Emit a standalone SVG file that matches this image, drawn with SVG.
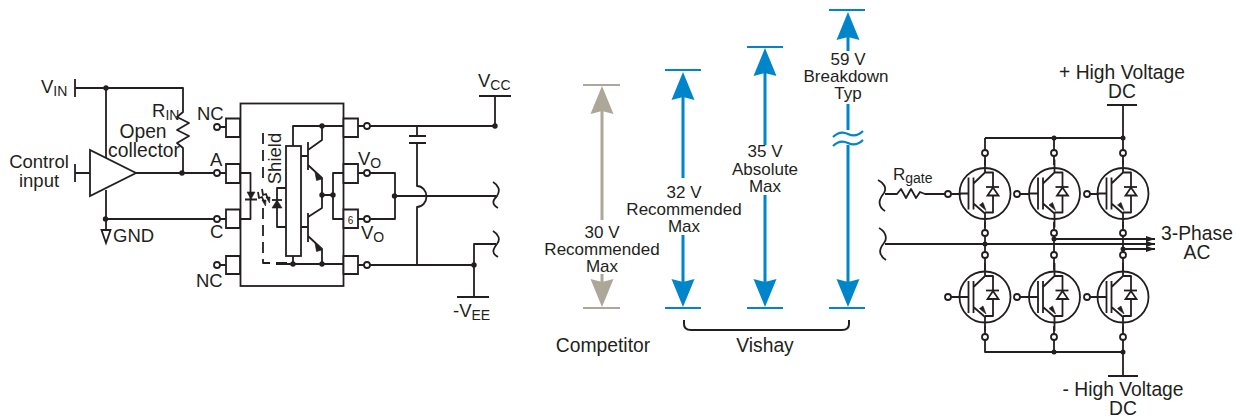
<svg xmlns="http://www.w3.org/2000/svg" width="1237" height="417" viewBox="0 0 1237 417">
<style>
text{font-family:"Liberation Sans",Arial,sans-serif;fill:#231f20;font-size:18.500px}
.m{text-anchor:middle}
.s{font-size:17px}
.l{font-size:19.300px}
.c{fill:none;stroke:#231f20;stroke-width:1.800;stroke-linejoin:round}
.f{fill:#fff;stroke:#231f20;stroke-width:1.800}
.d{fill:#231f20;stroke:none}
.k{fill:#231f20;stroke:#231f20;stroke-width:.6}
.b{stroke:#0085ca;stroke-width:3;fill:none}
.bt{stroke:#0085ca;stroke-width:2.200;fill:none}
.h{fill:#0085ca}
.g{stroke:#ada799;stroke-width:3;fill:none}
.gt{stroke:#ada799;stroke-width:2.200;fill:none}
.gh{fill:#ada799}
</style>
<defs>
<path id="up" d="M0 0L-11.500 28L0 25L11.500 28Z"/>
<path id="dn" d="M0 0L-11.500 -28L0 -25L11.500 -28Z"/>
<g id="igbt">
<circle class="c" cx="0" cy="0" r="25.500"/>
<path class="c" d="M-25 0H-16.500M-16.500 -16V16M-11.500 -16V16M-11.500 -10L0 -21V-34M0 -21H8V19H0M-11.500 10L0 20V34"/>
<path class="k" d="M-5.500 11.500L-2 9L1 17Z"/>
<path class="c" d="M1 -6.500H14"/>
<path class="f" d="M8 -6L2.500 2H13.500Z"/>
</g>
</defs>
<g id="connectors">
<path class="c" d="M75 79V97M75 88H183V112L177 117L189 123L177 130L189 136L177 143L183 148V173M106 88V158M75 164V182M75 173H90M136 173H214M106 190V230M106 219H214"/>
<path class="c" d="M220 127H226M220 173H226M220 219H226M220 265H226M358 126H364M358 173H364M358 219H364M358 265H364"/>
<path class="c" d="M370 126H495V96M479 96H511M417 126V136M409 136H426M409 143H426M417 143V186A9.500 10.500 0 0 1 417 207V265M370 173H395V219H370M395 196H496M370 265H474V244H496M474 265V297M457 297H489"/>
<path class="c" d="M493 182C498 185 501 190 497 196C493 200 491 204 498 208M493 231C498 234 501 239 497 244C493 249 491 253 498 257"/>
<path class="c" d="M240 173H250.500V219H240M245 199.500H257"/>
<path class="c" d="M293 146V126H343M322 126V140L308 150M301 156H308M308 142V170M308 165L322 178V208L308 217M322 195H333M343 173H333V219H343M301 227H308M308 213V242M308 236L322 249V264M293 256V264M276 264H343M286 188H277V227H286"/>
<path class="c" stroke-dasharray="11 6" d="M263 133V183M263 208V263H292"/>
<path class="c" d="M272 200H282"/>
<path class="c" stroke-width="1.300" d="M262 189L263 195L266 194L268 199M258 192L259 198L262 197L264 202"/>
<path class="k" d="M266 197L270 197L269.500 203ZM262 200L266 200L265.500 206Z"/>
<path class="c" d="M878 180C884 183 887 188 884 193C880 198 876 205 885 211M885 194H897L901 189L906 198L911 189L916 198L920 192L925 194H945M879 228C885 231 888 238 884 243C880 248 877 254 886 260"/>
<path class="c" d="M985 138H1123M1123 105V155M1107 105H1137M985 138V150M1054 138V150M985 156V165M1054 156V165M1123 156V165M985 222V230M1054 222V230M1123 222V230M985 236V252M1054 236V252M1123 236V252M885 244H1155M1054 239H1155M1123 249H1155"/>
<path class="c" d="M985 258V270M1054 258V270M1123 258V270M985 326V334M1054 326V334M1123 326V334M985 340V352H1123M1054 340V352M1123 340V376M1108 376H1138"/>
<path class="c" d="M1017 194H1030M1087 194H1099M950 194H961M950 297H961M1020 297H1030M1090 297H1099"/>
<path class="d" d="M1146 236L1155 239L1146 242ZM1146 241L1155 244L1146 247ZM1146 246L1155 249L1146 252Z"/>
<path d="M684 320V324Q684 330 691 330H842Q849 330 849 324V320" fill="none" stroke="#231f20" stroke-width="2"/>
<path class="gt" d="M583 85H620M583 308H620"/><path class="g" d="M602 110V220M602 274V282"/>
<use href="#up" x="602" y="86" class="gh"/><use href="#dn" x="602" y="307" class="gh"/>
<path class="bt" d="M665 70H701M665 308H701M747 47H783M747 308H783M829 10H865M829 308H865"/>
<path class="b" d="M683 95V178M683 235V282M765 72V145M765 195V282M848 37V51M848 104V130M848 145V282"/>
<use href="#up" x="683" y="72" class="h"/><use href="#dn" x="683" y="307" class="h"/>
<use href="#up" x="765" y="48" class="h"/><use href="#dn" x="765" y="307" class="h"/>
<use href="#up" x="848" y="12" class="h"/><use href="#dn" x="848" y="307" class="h"/>
<path class="bt" d="M833 137Q840 130 848 134T863 131M833 146Q840 139 848 143T863 140"/>
</g>
<g id="amplifier"><path class="f" d="M90 150V196L136 173Z"/></g>
<g id="gnd"><path class="f" d="M101.500 230H110.500L106 243Z"/></g>
<g id="package">
<rect class="f" x="240.500" y="103.500" width="103" height="182.500" style="fill:none"/>
<path class="f" d="M240 118.500H226V137H240ZM240 164H226V183H240ZM240 209.500H226V228H240ZM240 256H226V274H240ZM343.500 118.500H358V137H343.500ZM343.500 164H358V183H343.500ZM343.500 209.500H358V228H343.500ZM343.500 256H358V274H343.500Z"/>
<rect class="f" x="286" y="146" width="15" height="110"/>
<path class="k" d="M247 192H255L251 199ZM272 208H282L277 200Z"/>
<path class="k" d="M315 172.500L322 179L316.500 180.500ZM315 243L322 250L316.500 251.500Z"/>
<text x="350.500" y="224" class="m" style="font-size:10px">6</text>
<text transform="translate(281 158.500) rotate(-90)" class="m">Shield</text>
</g>
<g id="junctions">
<g class="d">
<circle cx="106" cy="88" r="2.700"/><circle cx="182" cy="173" r="2.700"/><circle cx="105.500" cy="219" r="2.700"/>
<circle cx="495" cy="126" r="2.700"/><circle cx="394.500" cy="196" r="2.700"/><circle cx="474" cy="265" r="2.700"/>
<circle cx="322" cy="126" r="2.700"/><circle cx="322" cy="195" r="2.700"/><circle cx="333" cy="195" r="2.700"/><circle cx="293" cy="264" r="2.700"/><circle cx="322" cy="264" r="2.700"/>
<circle cx="1054" cy="138" r="2.500"/><circle cx="1123" cy="138" r="2.500"/><circle cx="985" cy="244" r="2.500"/><circle cx="1054" cy="239" r="2.500"/><circle cx="1123" cy="249" r="2.500"/><circle cx="1054" cy="352" r="2.500"/><circle cx="1123" cy="352" r="2.500"/>
</g>
<g class="f">
<circle cx="217" cy="127" r="3"/><circle cx="217" cy="173" r="3"/><circle cx="217" cy="219" r="3"/><circle cx="217" cy="265" r="3"/>
<circle cx="367" cy="126" r="3"/><circle cx="367" cy="173" r="3"/><circle cx="367" cy="219" r="3"/><circle cx="367" cy="265" r="3"/>
<circle cx="985" cy="153" r="3"/><circle cx="1054" cy="153" r="3"/><circle cx="1123" cy="153" r="3"/>
<circle cx="985" cy="233" r="3"/><circle cx="1054" cy="233" r="3"/><circle cx="1123" cy="233" r="3"/>
<circle cx="985" cy="255" r="3"/><circle cx="1054" cy="255" r="3"/><circle cx="1123" cy="255" r="3"/>
<circle cx="985" cy="337" r="3"/><circle cx="1054" cy="337" r="3"/><circle cx="1123" cy="337" r="3"/>
<circle cx="948" cy="194" r="3"/><circle cx="1017" cy="194" r="3"/><circle cx="1087" cy="194" r="3"/>
<circle cx="948" cy="297" r="3"/><circle cx="1017" cy="297" r="3"/><circle cx="1087" cy="297" r="3"/>
</g>
</g>
<g id="igbts">
<use href="#igbt" x="985" y="193.500"/><use href="#igbt" x="1054.500" y="193.500"/><use href="#igbt" x="1123" y="193.500"/>
<use href="#igbt" x="985" y="297"/><use href="#igbt" x="1054.500" y="297"/><use href="#igbt" x="1123" y="297"/>
</g>
<g id="labels">
<text x="41" y="93">V<tspan dy="3" style="font-size:14px">IN</tspan></text>
<text x="39" y="168" class="m">Control</text><text x="39" y="187" class="m">input</text>
<text x="143" y="138" class="m l">Open</text><text x="144" y="157" class="m l">collector</text>
<text x="152" y="117">R<tspan dy="3" style="font-size:14px">IN</tspan></text>
<text x="197" y="120">NC</text><text x="210" y="166">A</text><text x="210" y="238">C</text><text x="196" y="287">NC</text><text x="113" y="242">GND</text>
<text x="358" y="165">V<tspan dy="3" style="font-size:14px">O</tspan></text><text x="361" y="239">V<tspan dy="3" style="font-size:14px">O</tspan></text>
<text x="478" y="87">V<tspan dy="3" style="font-size:14px">CC</tspan></text><text x="453" y="317">-V<tspan dy="3" style="font-size:14px">EE</tspan></text>
<text x="602" y="238" class="m s">30 V</text><text x="602" y="255" class="m s">Recommended</text><text x="602" y="272" class="m s">Max</text>
<text x="684" y="198" class="m s">32 V</text><text x="684" y="215" class="m s">Recommended</text><text x="684" y="232" class="m s">Max</text>
<text x="765" y="157" class="m s">35 V</text><text x="765" y="174.500" class="m s">Absolute</text><text x="765" y="192" class="m s">Max</text>
<text x="848" y="65" class="m s">59 V</text><text x="846" y="82" class="m s">Breakdown</text><text x="848" y="99" class="m s">Typ</text>
<text x="603" y="352" class="m l">Competitor</text><text x="765" y="352" class="m l">Vishay</text>
<text x="893" y="180" style="font-size:17px">R<tspan dy="3" style="font-size:14px">gate</tspan></text>
<text x="1122" y="79" class="m l">+ High Voltage</text><text x="1122" y="98" class="m l">DC</text>
<text x="1123" y="396" class="m l">- High Voltage</text><text x="1123" y="415" class="m l">DC</text>
<text x="1197" y="239.500" class="m l">3-Phase</text><text x="1197" y="258.500" class="m l">AC</text>
</g>
</svg>
